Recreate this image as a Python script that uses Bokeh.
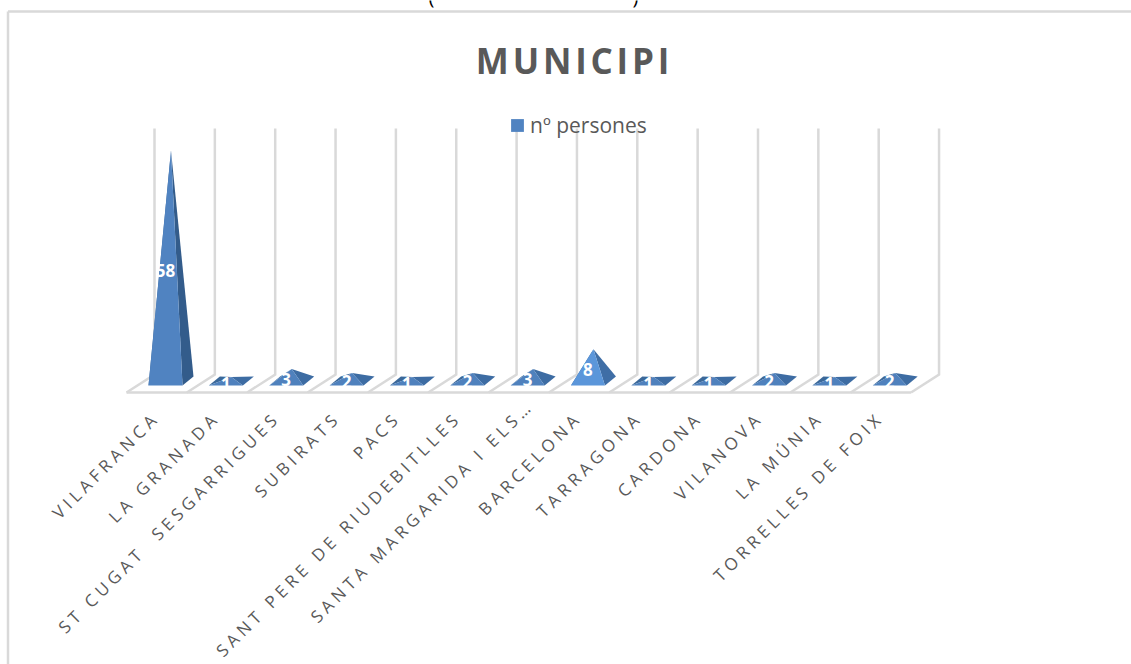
import math
from bokeh.plotting import figure
from bokeh.models import Range1d, ColumnDataSource, Legend, LegendItem
from bokeh.core.properties import value
from bokeh.embed import file_html
from bokeh.resources import INLINE

categories = ["VILAFRANCA", "LA GRANADA", "ST CUGAT \u00a0SESGARRIGUES", "SUBIRATS", "PACS",
              "SANT PERE DE RIUDEBITLLES", "SANTA MARGARIDA I ELS…", "BARCELONA",
              "TARRAGONA", "CARDONA", "VILANOVA", "LA MÚNIA", "TORRELLES DE FOIX"]
persones = [58, 1, 3, 2, 1, 2, 3, 8, 1, 1, 2, 1, 2]
title_text = "MUNICIPI"
series_name = "nº persones"

W, H = 1131, 664
X0, DX, Y0, DY = 165.0, 60.35, 380.5, 3.974
FONT = "Open Sans"
GREY = "#595959"
LINE = "#d9d9d9"
LABEL_SPACING = 4.4
TITLE_SPACING = 3.8


def X(px):
    return (px - X0) / DX


def Y(py):
    return (Y0 - py) / DY


def layer(spacing=0):
    f = figure(width=W, height=H, output_backend="svg", toolbar_location=None,
               x_range=Range1d(X(0), X(W)), y_range=Range1d(Y(H), Y(0)),
               min_border=0, outline_line_color=None,
               background_fill_alpha=0, border_fill_alpha=0,
               styles={"position": "absolute", "left": "0px", "top": "0px",
                       "letter-spacing": f"{spacing}px"})
    f.axis.visible = False
    f.grid.visible = False
    return f


p = layer()

# chart frame
p.line([X(7.5), X(7.5)], [Y(H), Y(11)], line_color=LINE, line_width=2.5)
p.line([X(7.5), X(W)], [Y(11), Y(11)], line_color=LINE, line_width=2.5)

# floor and walls
n = len(categories)
half = 17 / DX
back_x = 11 / DX
depth = 4.5 / DY
floor_front = Y(392)
wall_back = Y(374)
wall_top = Y(128)
off_front = X(126)
off_back = X(154)
p.line([off_front, off_front + n], [floor_front, floor_front], line_color=LINE, line_width=2.5)
for k in range(n + 1):
    p.line([off_front + k, off_back + k, off_back + k], [floor_front, wall_back, wall_top],
           line_color=LINE, line_width=2.5, line_join="miter")

# pyramids
left_c = ["#3b6899"] * n
front_c = ["#4f81bd"] * n
right_c = ["#3d6ca3"] * n
front_c[0] = "#5083c1"
right_c[0] = "#335c8b"
front_c[7] = "#5b96da"
right_c[7] = "#3f6ea6"

xs_left, ys_left, xs_right, ys_right, xs_front, ys_front = [], [], [], [], [], []
for i, v in enumerate(persones):
    ax = i + back_x / 2
    xs_left.append([i - half, i - half + back_x, ax])
    ys_left.append([-depth, depth, v])
    xs_right.append([i + half, i + half + back_x, ax])
    ys_right.append([-depth, depth, v])
    xs_front.append([i - half, i + half, ax])
    ys_front.append([-depth, -depth, v])

p.patches(xs_left, ys_left, fill_color=left_c, line_color=None)
p.patches(xs_right, ys_right, fill_color=right_c, line_color=None)
front = p.patches(xs_front, ys_front, fill_color=front_c, line_color=None)

# data labels
lab = ColumnDataSource(dict(x=list(range(n)),
                            y=[(v - depth) / 2 - 2 / DY for v in persones],
                            t=[str(v) for v in persones]))
p.text("x", "y", "t", source=lab, text_color="white", text_font=value(FONT),
       text_font_style="bold", text_font_size="17px", text_align="center", text_baseline="middle")

# cropped text above the chart
p.text([X(431), X(635)], [Y(-4), Y(-4)], ["(", ")"], text_color="black", text_font=value(FONT),
       text_font_size="20px", text_align="center", text_baseline="alphabetic")

# legend
legend = Legend(items=[LegendItem(label=series_name, renderers=[front], index=0)],
                location=(509, H - 139), orientation="horizontal", padding=0, margin=0,
                background_fill_alpha=0, border_line_color=None,
                glyph_width=16, glyph_height=16, label_standoff=5,
                label_text_font=FONT, label_text_font_size="21px", label_text_color=GREY)
p.add_layout(legend, "center")

# category labels (letter-spaced layer); the truncated label sits further up its slope
q = layer(LABEL_SPACING)
ang = math.radians(45)
slide = [12 if c.endswith("…") else 0 for c in categories]
q.text([i + (X(155.5) - X(165)) + (s - len(c) * LABEL_SPACING * math.cos(ang)) / DX
        for i, (c, s) in enumerate(zip(categories, slide))],
       [Y(414) + (s - len(c) * LABEL_SPACING * math.sin(ang)) / DY for c, s in zip(categories, slide)],
       categories, angle=ang, text_color=GREY, text_font=value(FONT), text_font_size="17px",
       text_align="right", text_baseline="middle")

# chart title (letter-spaced layer)
t = layer(TITLE_SPACING)
t.text([X(574 - len(title_text) * TITLE_SPACING / 2)], [Y(59.5)], [title_text], text_color=GREY,
       text_font=value(FONT), text_font_style="bold",
       text_font_size="35px", text_align="center", text_baseline="middle")

open("out.html", "w").write(file_html([p, q, t], INLINE))
